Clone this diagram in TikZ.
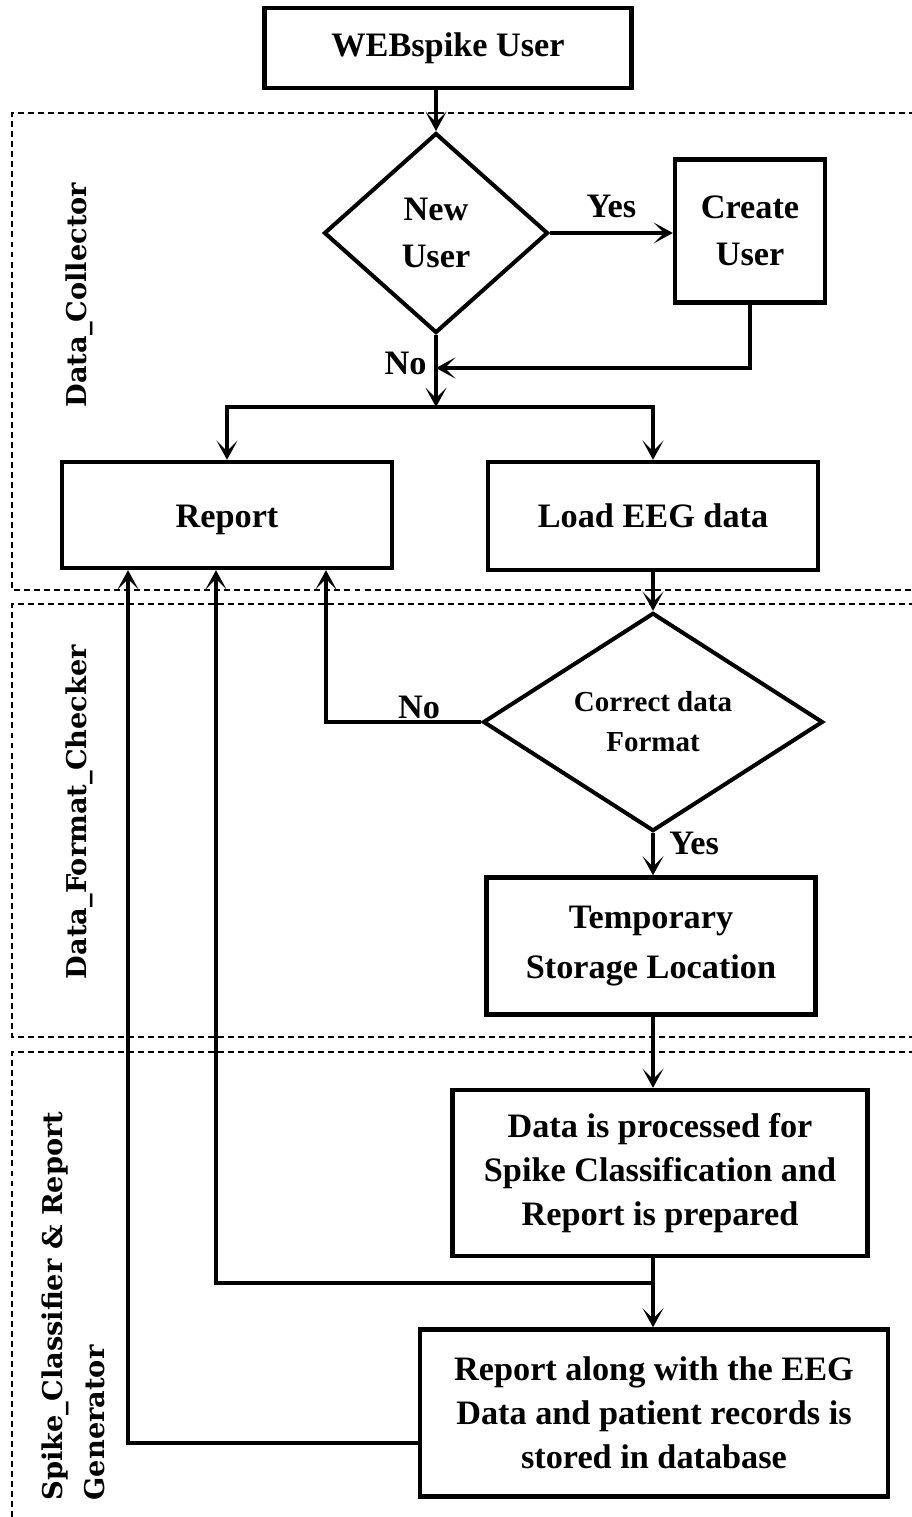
\documentclass[tikz,border=0pt]{standalone}
\usepackage{fontspec}
\setmainfont{Liberation Serif}
\newfontfamily\lanefont{DejaVu Serif}
\usetikzlibrary{shapes.geometric,arrows.meta}

\begin{document}
\begin{tikzpicture}[x=0.02cm, y=-0.02cm,
    box/.style={draw, line width=2.5pt, align=center, inner sep=2pt,
      font=\fontsize{19.5}{25}\selectfont\bfseries},
    decision/.style={draw, diamond, line width=2.3pt, align=center, inner sep=0pt,
      font=\fontsize{19.5}{26.5}\selectfont\bfseries},
    conn/.style={line width=2.1pt, -{Stealth[length=11pt,width=12pt,inset=6pt]}},
    lane/.style={line width=0.8pt, dash pattern=on 3.4pt off 2.3pt},
    lanelabel/.style={rotate=90, align=left, font=\lanefont\fontsize{15.5}{24}\selectfont\bfseries},
    answer/.style={font=\fontsize{19.5}{25}\selectfont\bfseries}]
    \useasboundingbox (0,0) rectangle (912,1517);

    % Lanes
    \draw[lane] (915,113) -- (12,113) -- (12,590) -- (915,590);
    \draw[lane] (915,604) -- (12,604) -- (12,1037) -- (915,1037);
    \draw[lane] (915,1052) -- (12,1052) -- (12,1520);
    \node[lanelabel] (collector) at (79,295) {Data\_Collector};
    \node[lanelabel] (checker) at (79,812) {Data\_Format\_Checker};
    \node[lanelabel] (classifier) at (73,1306) {Spike\_Classifier \& Report\\Generator};

    % Steps
    \node[box, minimum width=7.34cm, minimum height=1.6cm] (webuser) at (448,48) {WEBspike User};
    \node[decision, minimum width=4.48cm, minimum height=4cm] (newuser) at (436,233) {New\\User};
    \node[box, minimum width=3cm, minimum height=2.86cm, font=\fontsize{19.5}{26.5}\selectfont\bfseries] (createuser) at (750,231) {Create\\User};
    \node[box, minimum width=6.6cm, minimum height=2.12cm, text height=18pt, text depth=4pt] (report) at (227,515) {Report};
    \node[box, minimum width=6.6cm, minimum height=2.16cm] (loadeeg) at (653,516) {Load EEG data};
    \node[decision, minimum width=6.8cm, minimum height=4cm, font=\fontsize{16.5}{22.7}\selectfont\bfseries] (check) at (653,722) {Correct data\\Format};
    \node[box, minimum width=6.58cm, minimum height=2.74cm, font=\fontsize{19.5}{28}\selectfont\bfseries] (tempstore) at (651,946) {Temporary\\Storage Location};
    \node[box, minimum width=8.3cm, minimum height=3.32cm] (process) at (660,1173) {Data is processed for\\Spike Classification and\\Report is prepared};
    \node[box, minimum width=9.36cm, minimum height=3.34cm] (store) at (654,1413) {Report along with the EEG\\Data and patient records is\\stored in database};

    % Flow
    \coordinate (merge) at (436,368);
    \coordinate (split) at (436,407);
    \coordinate (tap) at (653,1283);
    \draw[conn] (webuser.south -| newuser.north) -- (newuser.north);
    \draw[conn] (newuser.east) -- (newuser.east -| createuser.west) node[answer, midway, above=4pt] {Yes};
    \draw[conn] (createuser.south) |- (merge);
    \draw[conn] (newuser.south) -- (split) node[answer, pos=0.39, left=1pt] {No};
    \draw[conn] (split) -| (report.north);
    \draw[conn] (split) -| (loadeeg.north);
    \draw[conn] (loadeeg.south) -- (check.north);
    \draw[conn] (check.west) -| ([xshift=1.98cm]report.south) node[answer, pos=0.2, above, inner sep=1pt] {No};
    \draw[conn] (check.south) -- (tempstore.north -| check.south) node[answer, pos=0.25, right=5pt] {Yes};
    \draw[conn] (tempstore.south -| check.south) -- (process.north -| check.south);
    \draw[conn] (process.south -| tap) -- (store.north -| tap);
    \draw[conn] (tap) -| ([xshift=-0.22cm]report.south);
    \draw[conn] ([yshift=-0.6cm]store.west) -| ([xshift=-1.98cm]report.south);
\end{tikzpicture}
\end{document}
